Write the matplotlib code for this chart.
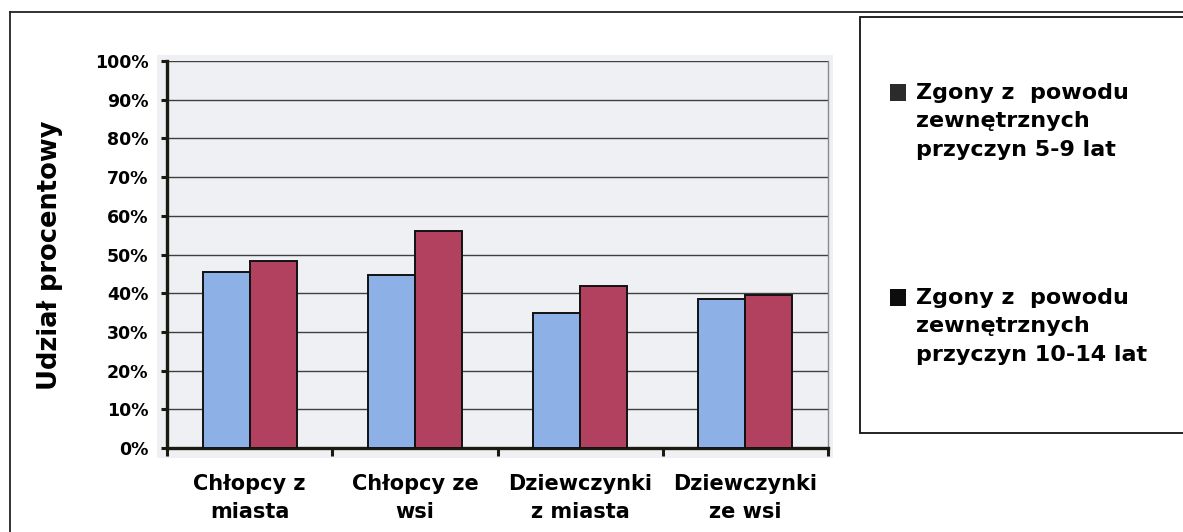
import numpy as np
import matplotlib.pyplot as plt
from matplotlib.patches import Rectangle
from matplotlib.lines import Line2D

categories = ["Chłopcy z\nmiasta", "Chłopcy ze\nwsi", "Dziewczynki\nz miasta", "Dziewczynki\nze wsi"]
share_5_9 = [45.6, 44.7, 35.0, 38.4]
share_10_14 = [48.2, 56.2, 41.9, 39.5]
series_names = ["Zgony z  powodu\nzewnętrznych\nprzyczyn 5-9 lat",
                "Zgony z  powodu\nzewnętrznych\nprzyczyn 10-14 lat"]
yticks = np.arange(0, 101, 10)

W, H = 1183, 532
plt.rcParams['font.family'] = ['DejaVu Sans']
plt.rcParams['font.weight'] = 'bold'

fig = plt.figure(figsize=(W / 100, H / 100), dpi=100)
fig.patch.set_facecolor('white')


def px(x0, y0, x1, y1):
    # pixel box (top-left origin) -> figure fraction rect
    return [x0 / W, 1 - y1 / H, (x1 - x0) / W, (y1 - y0) / H]


# outer frame (top and left edges visible)
fig.add_artist(Line2D([9.5 / W, 1], [1 - 11.5 / H] * 2, color='#222222', lw=1.3))
fig.add_artist(Line2D([9.5 / W] * 2, [0, 1 - 11.5 / H], color='#222222', lw=1.3))

# light plot background
bg = px(157, 55, 833, 458)
fig.add_artist(Rectangle((bg[0], bg[1]), bg[2], bg[3], transform=fig.transFigure,
                         facecolor='#eef0f4', edgecolor='none', zorder=0))

ax = fig.add_axes(px(167, 61, 828, 448))
ax.set_facecolor('none')

x = np.arange(len(categories))
w = 0.285
ax.bar(x - w / 2, share_5_9, w, color='#8db1e6', edgecolor='#111111', linewidth=1.4, zorder=3)
ax.bar(x + w / 2, share_10_14, w, color='#b2415f', edgecolor='#111111', linewidth=1.4, zorder=3)

ax.set_xlim(-0.5, len(categories) - 0.5)
ax.set_ylim(0, 100)
ax.set_yticks(yticks)
ax.set_yticklabels([f"{v}%" for v in yticks], fontsize=12.5, fontweight='bold')
ax.yaxis.grid(True, color='#3f3f3f', lw=1.0, zorder=1)
ax.set_axisbelow(True)

ax.set_xticks(x)
ax.set_xticklabels(categories, fontsize=15, fontweight='bold', linespacing=1.5)
ax.set_xticks(np.arange(-0.5, len(categories)), minor=True)
ax.tick_params(axis='x', which='major', length=0, pad=19)
ax.tick_params(axis='x', which='minor', length=6, width=2.2, color='#1a1a10', direction='out')
ax.tick_params(axis='y', length=4.5, width=2.2, color='#1a1a10', pad=9)

for side in ['left', 'bottom']:
    ax.spines[side].set_linewidth(2.4)
    ax.spines[side].set_color('#1a1a10')
ax.spines['top'].set_visible(False)
ax.spines['right'].set_color('#8a8a8a')
ax.spines['right'].set_linewidth(1.0)

fig.text(50 / W, 1 - 255 / H, "Udział procentowy", rotation=90, fontsize=18.5,
         fontweight='bold', ha='center', va='center')

# legend box
lb = px(860, 17, W + 5, 433)
fig.add_artist(Rectangle((lb[0], lb[1]), lb[2], lb[3], transform=fig.transFigure,
                         facecolor='white', edgecolor='#111111', lw=1.3, zorder=2))
for name, top, mc in zip(series_names, [84, 289], ['#2b2b2b', '#0d0d0d']):
    m = px(890, top, 906, top + 17)
    fig.add_artist(Rectangle((m[0], m[1]), m[2], m[3], transform=fig.transFigure,
                             facecolor=mc, edgecolor='none', zorder=3))
    fig.text(916 / W, 1 - (top - 1) / H, name, fontsize=16, fontweight='bold',
             ha='left', va='top', linespacing=1.52, zorder=3)

fig.savefig('out.png', dpi=100)
